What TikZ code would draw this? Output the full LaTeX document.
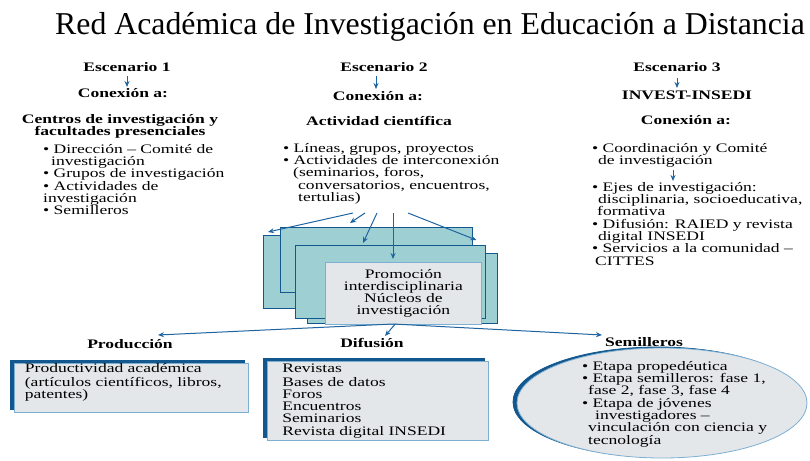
\documentclass[tikz,border=0pt]{standalone}
\usepackage{fontspec}
\setmainfont{Liberation Serif}
\newfontfamily\bodyfont[FakeStretch=1.35]{Liberation Serif}
\usetikzlibrary{arrows.meta,calc,shadows,shapes.geometric}

\definecolor{flowblue}{RGB}{30,100,160}
\definecolor{deepblue}{RGB}{18,88,142}
\definecolor{cardteal}{RGB}{158,207,210}
\definecolor{boxgray}{RGB}{228,231,233}
\definecolor{edgeblue}{RGB}{125,175,210}

\tikzset{
  txt/.style={inner sep=0pt, align=left, font=\bodyfont\fontsize{13}{12.3}\selectfont,
    execute at begin node=\strut},
  head/.style={txt, align=center, font=\bodyfont\fontsize{13}{12.3}\selectfont\bfseries},
  flow/.style={draw=flowblue, line width=1pt, -{Stealth[length=6pt,width=5pt]}},
  card/.style={draw=deepblue, line width=1.3pt, fill=cardteal, anchor=north west,
    inner sep=0pt},
  listbox/.style={txt, draw=edgeblue, line width=0.8pt, fill=boxgray, anchor=north west,
    execute at begin node=\strut,
    copy shadow={shadow xshift=-4pt, shadow yshift=3pt, fill=deepblue, draw=deepblue}},
}

\begin{document}
\begin{tikzpicture}[x=1pt,y=-1pt]
    \useasboundingbox (0,0) rectangle (810,460);

    % Title
    \node[anchor=base, inner sep=0pt, font=\fontsize{31.8}{36}\selectfont] (title) at (430,35)
      {Red Académica de Investigación en Educación a Distancia};

    % Escenario 1
    \node[head, anchor=north] (esc1) at (127,62) {Escenario 1};
    \node[head, anchor=north] (con1) at (123,88) {Conexión a:};
    \node[head, anchor=north] (centros) at (120,114) {Centros de investigación y\\facultades presenciales};
    \node[txt, anchor=north west] (list1) at (43,144) {• Dirección – Comité de\\
      \hspace*{8pt}investigación\\
      • Grupos de investigación\\
      • Actividades de\\
      investigación\\
      • Semilleros};
    \draw[flow, shorten <=1pt, shorten >=1pt] (esc1.south) -- (esc1.south |- con1.north);

    % Escenario 2
    \node[head, anchor=north] (esc2) at (384,62) {Escenario 2};
    \node[head, anchor=north] (con2) at (378,91) {Conexión a:};
    \node[head, anchor=north] (act2) at (379,116) {Actividad científica};
    \node[txt, anchor=north west] (list2) at (283,143) {• Líneas, grupos, proyectos\\
      • Actividades de interconexión\\
      \hspace*{10pt}(seminarios, foros,\\
      \hspace*{15pt}conversatorios, encuentros,\\
      \hspace*{15pt}tertulias)};
    \draw[flow, shorten <=1pt, shorten >=2pt] (esc2.south -| 376,0) -- (con2.north -| 376,0);

    % Escenario 3
    \node[head, anchor=north] (esc3) at (677,62) {Escenario 3};
    \node[head, anchor=north] (invest) at (687,91) {INVEST-INSEDI};
    \node[head, anchor=north] (con3) at (686,115) {Conexión a:};
    \node[txt, anchor=north west] (coord3) at (592,143) {• Coordinación y Comité\\
      \hspace*{6pt}de investigación};
    \node[txt, anchor=north west] (ejes3) at (592,182) {• Ejes de investigación:\\
      \hspace*{6pt}disciplinaria, socioeducativa,\\
      \hspace*{5pt}formativa\\
      • Difusión: RAIED y revista\\
      \hspace*{6pt}digital INSEDI\\
      • Servicios a la comunidad –\\
      \hspace*{3pt}CITTES};
    \draw[flow, shorten <=3pt, shorten >=3pt] (esc3.south) -- (esc3.south |- invest.north);
    \draw[flow, shorten <=2pt, shorten >=1pt] (coord3.south -| 673,0) -- (ejes3.north -| 673,0);

    % Stack of cards
    \node[card, minimum width=192pt, minimum height=73pt] (card1) at (263,235) {};
    \node[card, minimum width=192pt, minimum height=65pt] (card2) at (280,227) {};
    \node[card, minimum width=190pt, minimum height=70pt] (card4) at (307,253) {};
    \node[card, minimum width=190pt, minimum height=73pt] (card3) at (295,245) {};
    \node[draw=edgeblue, line width=0.8pt, fill=boxgray, anchor=north west, inner sep=0pt,
      minimum width=156pt, minimum height=62pt, align=center,
      font=\bodyfont\fontsize{13}{12.3}\selectfont] (core) at (325,262)
      {Promoción\\interdisciplinaria\\Núcleos de\\investigación};

    % Arrows into the stack
    \coordinate (s1) at (353,213);
    \coordinate (s2) at (365,213);
    \coordinate (s3) at (377,213);
    \coordinate (s4) at (393,213);
    \coordinate (s5) at (408,213);
    \draw[flow] (s1) -- ($(card1.north west)+(5,-3)$);
    \draw[flow] (s2) -- ($(card2.north west)+(70,-4)$);
    \draw[flow] (s3) -- ($(card3.north west)+(68,-2)$);
    \draw[flow, shorten >=3pt] (s4) -- (s4 |- core.north);
    \draw[flow] (s5) -- ($(card2.north east)+(3,13)$);

    % Outputs
    \node[head, anchor=north] (prodlabel) at (130,339) {Producción};
    \node[head, anchor=north] (difflabel) at (372,338) {Difusión};
    \node[head, anchor=north] (semilabel) at (644,337) {Semilleros};

    \coordinate (split) at (393,324);
    \draw[flow] (split) -- ($(prodlabel.north)+(28,-4)$);
    \draw[flow] (split) -- ($(semilabel.north west)+(-3,-2)$);
    \draw[flow] ($(core.south)+(-8,-1)$) -- ($(difflabel.north)+(13,-2)$);

    \node[listbox, minimum width=234pt, minimum height=49pt, text width=213pt,
      inner xsep=10.5pt] (prodbox) at (14,363)
      {Productividad académica\\(artículos científicos, libros,\\patentes)\rule[-13pt]{0pt}{13pt}};
    \node[listbox, minimum width=221pt, minimum height=79pt, text width=191pt,
      inner xsep=15pt] (diffbox) at (267,361)
      {Revistas\\Bases de datos\\Foros\\Encuentros\\Seminarios\\Revista digital INSEDI};
    \node[ellipse, draw=edgeblue, line width=0.8pt, fill=boxgray, minimum width=290pt,
      minimum height=110pt,
      copy shadow={shadow xshift=-4pt, shadow yshift=1pt, fill=deepblue, draw=deepblue}]
      (semibox) at (662,403) {};
    \node[txt, anchor=north west] (semitext) at (582,361) {• Etapa propedéutica\\
      • Etapa semilleros: fase 1,\\
      \hspace*{6pt}fase 2, fase 3, fase 4\\
      • Etapa de jóvenes\\
      \hspace*{13pt}investigadores –\\
      \hspace*{6pt}vinculación con ciencia y\\
      \hspace*{6pt}tecnología};
\end{tikzpicture}
\end{document}
